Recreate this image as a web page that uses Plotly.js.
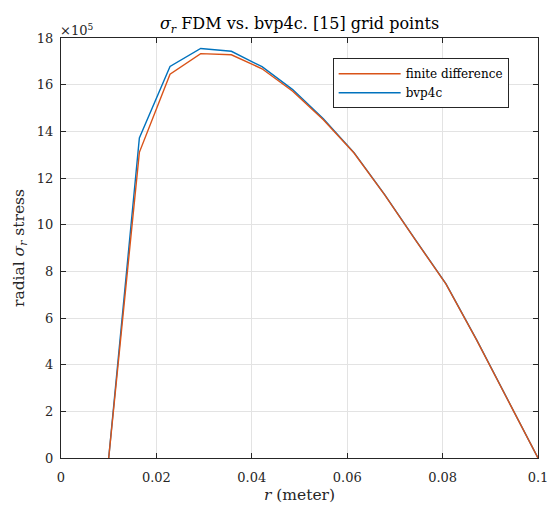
<!DOCTYPE html>
<html>
<head>
<meta charset="utf-8">
<script src="https://cdn.plot.ly/plotly-3.0.1.min.js"></script>
<style>html,body{margin:0;padding:0;background:#fff;}#chart{width:549px;height:508px;}</style>
</head>
<body>
<div id="chart"></div>
<script>
// radial positions (15 grid points), metres
var r = [0.01, 0.016429, 0.022857, 0.029286, 0.035714, 0.042143, 0.048571, 0.055,
         0.061429, 0.067857, 0.074286, 0.080714, 0.087143, 0.093571, 0.1];
// radial stress sigma_r, units of 1e5
var fdm   = [0, 13.1, 16.45, 17.33, 17.28, 16.68, 15.72, 14.5, 13.07, 11.28, 9.35, 7.45, 5.05, 2.5, 0];
var bvp4c = [0, 13.72, 16.78, 17.55, 17.43, 16.77, 15.79, 14.54, 13.09, 11.29, 9.36, 7.46, 5.06, 2.5, 0];
var xTicks = [0, 0.02, 0.04, 0.06, 0.08, 0.1];
var xTickText = ['0', '0.02', '0.04', '0.06', '0.08', '0.1'];
var yTicks = [0, 2, 4, 6, 8, 10, 12, 14, 16, 18];

var serif = 'DejaVu Serif, Liberation Serif, serif';
var traces = [
  {x: r, y: bvp4c, type: 'scatter', mode: 'lines', name: 'bvp4c',
   line: {color: '#0072BD', width: 1.4}, legendrank: 2},
  {x: r, y: fdm, type: 'scatter', mode: 'lines', name: 'finite difference',
   line: {color: '#D95319', width: 1.4}, legendrank: 1}
];
var axisCommon = {
  showline: true, linecolor: '#262626', linewidth: 1, mirror: 'ticks',
  ticks: 'inside', ticklen: 5, tickcolor: '#262626', tickwidth: 1,
  showgrid: true, gridcolor: '#e3e3e3', gridwidth: 1, zeroline: false,
  tickfont: {family: serif, size: 13, color: '#262626'}
};
var layout = {
  width: 549, height: 508,
  margin: {l: 60.5, r: 10.5, t: 38, b: 50},
  paper_bgcolor: '#fff', plot_bgcolor: '#fff',
  title: {text: '<i>σ</i><sub><i>r</i></sub> FDM vs. bvp4c. [15] grid points',
          font: {family: serif, size: 16, color: '#000'},
          x: 0.5, xref: 'paper', y: 0.953, yref: 'container', yanchor: 'middle'},
  xaxis: Object.assign({}, axisCommon, {
    range: [0, 0.1], tickvals: xTicks, ticktext: xTickText, ticklabelstandoff: 7,
    title: {text: '<i>r</i> (meter)', font: {family: serif, size: 15.5, color: '#262626'}, standoff: 5}
  }),
  yaxis: Object.assign({}, axisCommon, {
    range: [0, 18], tickvals: yTicks, ticklabelstandoff: 4,
    title: {text: 'radial <i>σ</i><sub><i>r</i></sub> stress', font: {family: serif, size: 15.5, color: '#262626'}, standoff: 8}
  }),
  showlegend: true,
  legend: {x: 0.5695, y: 0.9517, xanchor: 'left', yanchor: 'top',
           bgcolor: '#fff', bordercolor: '#262626', borderwidth: 1,
           font: {family: serif, size: 12, color: '#000'}, itemwidth: 62,
           tracegroupgap: 0},
  annotations: [{text: '×10<sup>5</sup>', xref: 'paper', yref: 'paper', x: 0, y: 1,
                 xanchor: 'left', yanchor: 'bottom', showarrow: false, yshift: -2, xshift: -3,
                 font: {family: serif, size: 13, color: '#262626'}}]
};
Plotly.newPlot('chart', traces, layout, {displayModeBar: false, staticPlot: true});
</script>
</body>
</html>
